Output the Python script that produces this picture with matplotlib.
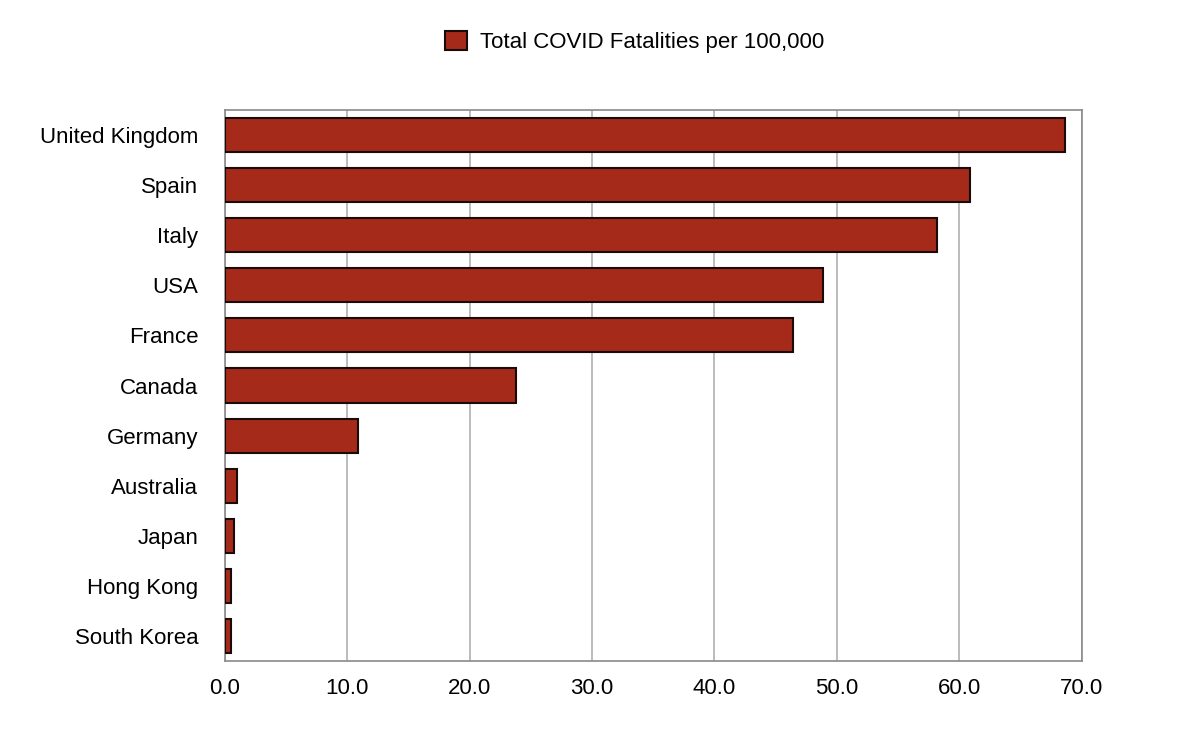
import matplotlib.pyplot as plt

countries = ['United Kingdom', 'Spain', 'Italy', 'USA', 'France', 'Canada',
             'Germany', 'Australia', 'Japan', 'Hong Kong', 'South Korea']
fatalities = [68.6, 60.9, 58.2, 48.9, 46.4, 23.8, 10.9, 0.98, 0.76, 0.54, 0.54]
xticks = [0, 10, 20, 30, 40, 50, 60, 70]

plt.rcParams['font.family'] = ['Liberation Sans', 'DejaVu Sans']

fig = plt.figure(figsize=(12, 7.55), dpi=100)
ax = fig.add_axes([0.1873, 0.1245, 0.9014 - 0.1873, 0.8543 - 0.1245])

ypos = list(range(len(countries)))
ax.barh(ypos, fatalities, height=0.68, color='#a52a1a', edgecolor='#1a0a08',
        linewidth=1.5, label='Total COVID Fatalities per 100,000', zorder=3)

ax.set_ylim(len(countries) - 0.5, -0.5)
ax.set_xlim(0, 70)
ax.set_yticks(ypos)
ax.set_yticklabels(countries, fontsize=16)
ax.set_xticks(xticks)
ax.set_xticklabels(['%.1f' % t for t in xticks], fontsize=16)
ax.tick_params(length=0)
ax.tick_params(axis='y', pad=19)
ax.tick_params(axis='x', pad=12)

ax.grid(axis='x', color='#bcbcbc', linewidth=1.4, zorder=0)
for s in ax.spines.values():
    s.set_color('#8a8a8a')
    s.set_linewidth(1.2)

fig.legend(loc='center', bbox_to_anchor=(0.529, 0.944), frameon=False,
           fontsize=16, handlelength=0.95, handleheight=0.95, handletextpad=0.6)

fig.savefig('out.png', dpi=100)
